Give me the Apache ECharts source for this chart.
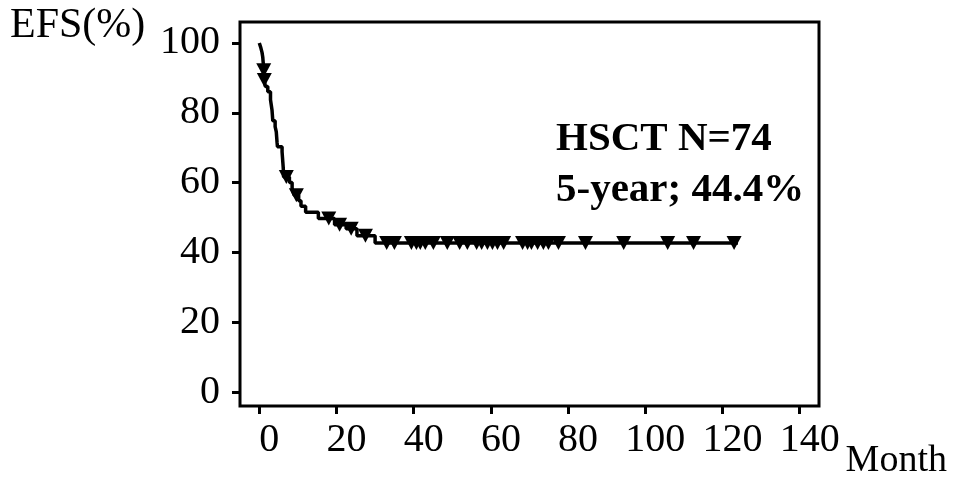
<!DOCTYPE html>
<html>
<head>
<meta charset="utf-8">
<script src="https://cdn.jsdelivr.net/npm/echarts@6/dist/echarts.min.js"></script>
<style>
  html, body { margin: 0; padding: 0; background: #fff; }
  #chart { width: 979px; height: 478px; }
</style>
</head>
<body>
<div id="chart"></div>
<script>
// Kaplan-Meier step points (month, EFS %)
const curveMonths = [0, 0.4, 0.7, 0.9, 1.0, 1.1, 1.2, 1.25, 1.6, 2.2, 2.9, 3.1, 3.3, 3.5, 4.1, 4.4, 4.5, 4.6, 4.7,
  5.9, 6.0, 6.1, 6.2, 6.3, 7.8, 8.5, 9.0, 10.2, 10.8, 12.0, 15.3, 19.5, 22.5, 25.3, 30.0, 124];
const curveEFS = [100, 98.6, 97.3, 95.9, 94.5, 93.2, 92.2, 89.4, 87.5, 86.0, 83.7, 82.2, 80.7, 77.7, 76.0, 74.5, 73.0, 71.5, 70.3,
  68.8, 67.3, 65.8, 64.3, 61.6, 60.0, 58.4, 56.4, 54.8, 53.2, 51.5, 49.7, 47.9, 46.8, 44.8, 42.7, 42.7];

// censored observations
const censorMonths = [1.15, 1.3, 7.0, 9.6, 18.0, 20.8, 23.8, 27.5,
  33, 35, 39.4, 40.7, 41.7, 43, 45.1, 48.7, 51.9, 53.9, 56.3, 57.6, 59.1, 60.4, 61.7, 63.3,
  68.2, 69.5, 70.5, 72.1, 73.6, 74.9, 77.5, 84.5, 94.4, 105.8, 112.5, 123];
const censorEFS = [92.2, 89.4, 61.6, 56.4, 49.7, 47.9, 46.8, 44.8,
  42.7, 42.7, 42.7, 42.7, 42.7, 42.7, 42.7, 42.7, 42.7, 42.7, 42.7, 42.7, 42.7, 42.7, 42.7, 42.7,
  42.7, 42.7, 42.7, 42.7, 42.7, 42.7, 42.7, 42.7, 42.7, 42.7, 42.7, 42.7];

const xTicks = [0, 20, 40, 60, 80, 100, 120, 140];
const yTicks = [0, 20, 40, 60, 80, 100];

const FONT = "'Liberation Serif', 'DejaVu Serif', serif";

const chart = echarts.init(document.getElementById("chart"));

chart.setOption({
  animation: false,
  title: [
    {
      text: "EFS(%)",
      left: 10, top: 5, padding: 0,
      textStyle: { fontFamily: FONT, fontSize: 42, fontWeight: "normal", color: "#000" }
    },
    {
      text: "HSCT N=74\n5-year; 44.4%",
      left: 556, top: 114, padding: 0,
      textStyle: { fontFamily: FONT, fontSize: 41, fontWeight: "bold", color: "#000", lineHeight: 51 }
    }
  ],
  grid: {
    left: 240, right: 160, top: 22, bottom: 72,
    outerBoundsMode: "none",
    containLabel: false,
    show: true, borderColor: "#000", borderWidth: 3
  },
  xAxis: {
    type: "value",
    min: -5, max: 145,
    name: "Month",
    nameLocation: "end",
    nameGap: 10,
    nameTextStyle: { fontFamily: FONT, fontSize: 38, color: "#000", verticalAlign: "top", padding: [36, 0, 0, 0] },
    axisLine: { show: false, onZero: false },
    splitLine: { show: false },
    axisTick: { show: true, inside: false, length: 8, customValues: xTicks, lineStyle: { color: "#000", width: 3 } },
    axisLabel: { customValues: xTicks, margin: 14, padding: [0, 0, 0, 20], fontFamily: FONT, fontSize: 40, color: "#000" }
  },
  yAxis: {
    type: "value",
    min: -4, max: 106,
    axisLine: { show: false, onZero: false },
    splitLine: { show: false },
    axisTick: { show: true, inside: false, length: 8, customValues: yTicks, lineStyle: { color: "#000", width: 3 } },
    axisLabel: { customValues: yTicks, margin: 20, padding: [8, 0, 0, 0], fontFamily: FONT, fontSize: 40, color: "#000" }
  },
  series: [
    {
      type: "line",
      step: "end",
      data: curveMonths.map((m, i) => [m, curveEFS[i]]),
      showSymbol: false,
      symbol: "none",
      lineStyle: { color: "#000", width: 3.5 }
    },
    {
      type: "scatter",
      data: censorMonths.map((m, i) => [m, censorEFS[i]]),
      symbol: "triangle",
      symbolRotate: 180,
      symbolSize: [15, 14],
      itemStyle: { color: "#000", opacity: 1 }
    }
  ]
});
</script>
</body>
</html>
